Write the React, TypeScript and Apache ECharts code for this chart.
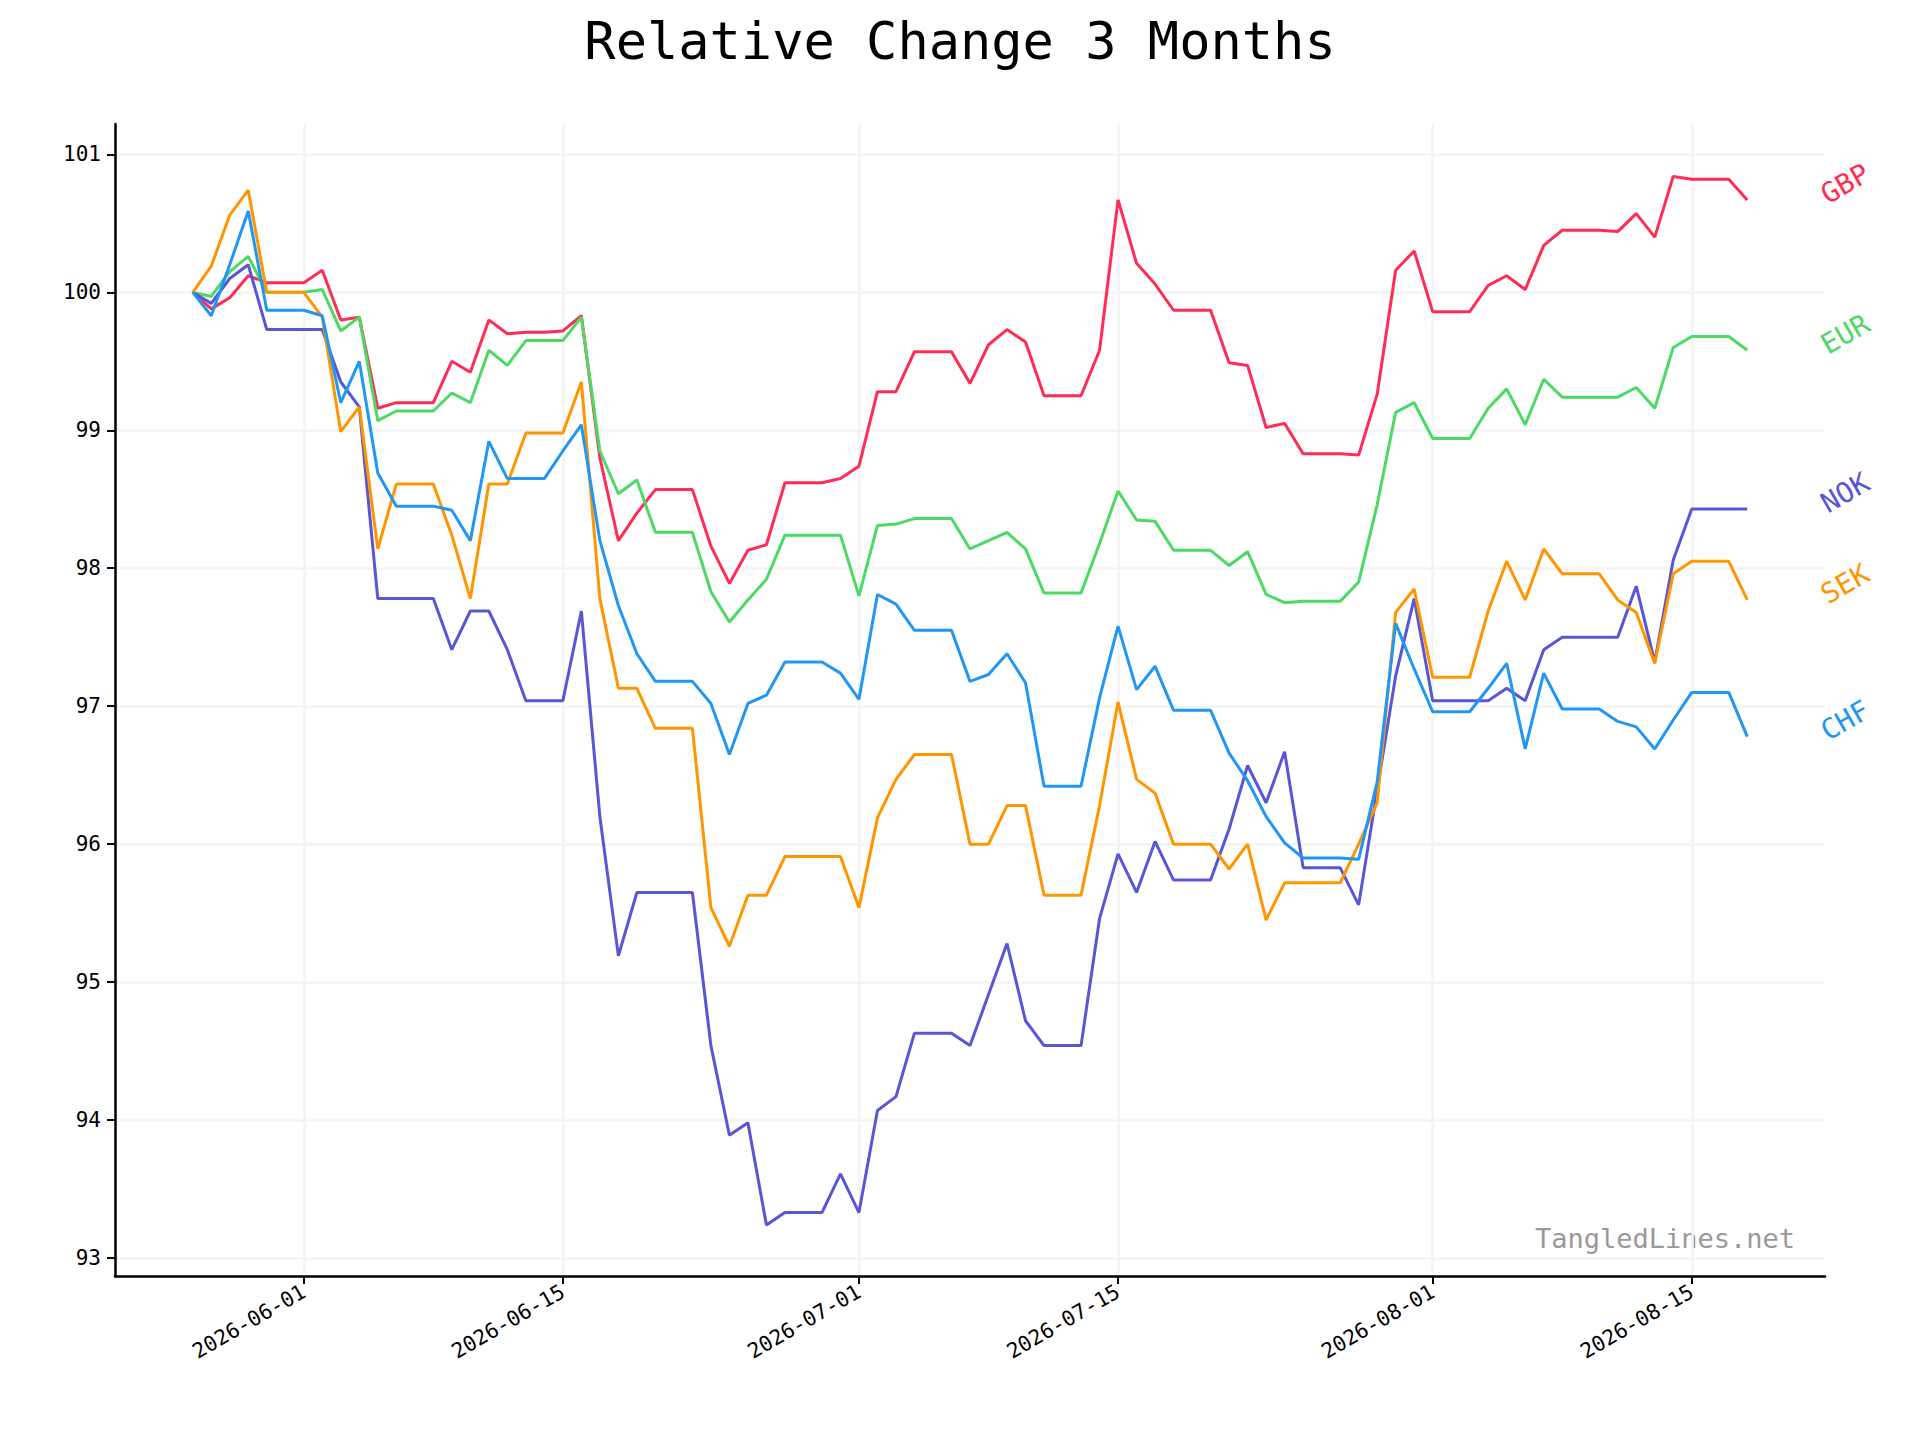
import React, { useEffect, useRef } from 'react';
import * as echarts from 'echarts';

// daily closes, 2026-05-26 .. 2026-08-18
const START = [2026, 4, 26];

const gbp = [100, 99.88, 99.96, 100.12, 100.07, 100.07, 100.07, 100.16, 99.8, 99.82, 99.16, 99.2, 99.2, 99.2, 99.5, 99.42, 99.8, 99.7, 99.71, 99.71, 99.72, 99.83, 98.8, 98.2, 98.4, 98.57, 98.57, 98.57, 98.16, 97.89, 98.13, 98.17, 98.62, 98.62, 98.62, 98.65, 98.74, 99.28, 99.28, 99.57, 99.57, 99.57, 99.34, 99.62, 99.73, 99.64, 99.25, 99.25, 99.25, 99.58, 100.67, 100.21, 100.06, 99.87, 99.87, 99.87, 99.49, 99.47, 99.02, 99.05, 98.83, 98.83, 98.83, 98.82, 99.26, 100.16, 100.3, 99.86, 99.86, 99.86, 100.05, 100.12, 100.02, 100.34, 100.45, 100.45, 100.45, 100.44, 100.57, 100.4, 100.84, 100.82, 100.82, 100.82, 100.67];
const eur = [100, 99.97, 100.15, 100.26, 100.0, 100.0, 100.0, 100.02, 99.72, 99.82, 99.07, 99.14, 99.14, 99.14, 99.27, 99.2, 99.58, 99.47, 99.65, 99.65, 99.65, 99.82, 98.85, 98.54, 98.64, 98.26, 98.26, 98.26, 97.83, 97.61, 97.77, 97.92, 98.24, 98.24, 98.24, 98.24, 97.8, 98.31, 98.32, 98.36, 98.36, 98.36, 98.14, 98.2, 98.26, 98.14, 97.82, 97.82, 97.82, 98.18, 98.56, 98.35, 98.34, 98.13, 98.13, 98.13, 98.02, 98.12, 97.81, 97.75, 97.76, 97.76, 97.76, 97.9, 98.46, 99.13, 99.2, 98.94, 98.94, 98.94, 99.16, 99.3, 99.04, 99.37, 99.24, 99.24, 99.24, 99.24, 99.31, 99.16, 99.6, 99.68, 99.68, 99.68, 99.58];
const nok = [100, 99.92, 100.1, 100.2, 99.73, 99.73, 99.73, 99.73, 99.35, 99.17, 97.78, 97.78, 97.78, 97.78, 97.41, 97.69, 97.69, 97.41, 97.04, 97.04, 97.04, 97.69, 96.2, 95.19, 95.65, 95.65, 95.65, 95.65, 94.54, 93.89, 93.98, 93.24, 93.33, 93.33, 93.33, 93.61, 93.33, 94.07, 94.17, 94.63, 94.63, 94.63, 94.54, 94.91, 95.28, 94.72, 94.54, 94.54, 94.54, 95.46, 95.93, 95.65, 96.02, 95.74, 95.74, 95.74, 96.11, 96.57, 96.3, 96.67, 95.83, 95.83, 95.83, 95.56, 96.39, 97.22, 97.78, 97.04, 97.04, 97.04, 97.04, 97.13, 97.04, 97.41, 97.5, 97.5, 97.5, 97.5, 97.87, 97.32, 98.06, 98.43, 98.43, 98.43, 98.43];
const sek = [100, 100.19, 100.56, 100.74, 100.0, 100.0, 100.0, 99.82, 98.99, 99.17, 98.14, 98.61, 98.61, 98.61, 98.24, 97.78, 98.61, 98.61, 98.98, 98.98, 98.98, 99.35, 97.78, 97.13, 97.13, 96.84, 96.84, 96.84, 95.54, 95.26, 95.63, 95.63, 95.91, 95.91, 95.91, 95.91, 95.54, 96.19, 96.47, 96.65, 96.65, 96.65, 96.0, 96.0, 96.28, 96.28, 95.63, 95.63, 95.63, 96.28, 97.03, 96.47, 96.37, 96.0, 96.0, 96.0, 95.82, 96.0, 95.45, 95.72, 95.72, 95.72, 95.72, 96.0, 96.3, 97.68, 97.85, 97.21, 97.21, 97.21, 97.69, 98.05, 97.77, 98.14, 97.96, 97.96, 97.96, 97.77, 97.68, 97.31, 97.96, 98.05, 98.05, 98.05, 97.77];
const chf = [100, 99.83, 100.2, 100.59, 99.87, 99.87, 99.87, 99.83, 99.2, 99.5, 98.69, 98.45, 98.45, 98.45, 98.42, 98.2, 98.92, 98.65, 98.65, 98.65, 98.85, 99.04, 98.2, 97.73, 97.38, 97.18, 97.18, 97.18, 97.02, 96.65, 97.02, 97.08, 97.32, 97.32, 97.32, 97.24, 97.05, 97.81, 97.74, 97.55, 97.55, 97.55, 97.18, 97.23, 97.38, 97.17, 96.42, 96.42, 96.42, 97.06, 97.58, 97.12, 97.29, 96.97, 96.97, 96.97, 96.66, 96.46, 96.2, 96.01, 95.9, 95.9, 95.9, 95.89, 96.45, 97.6, 97.27, 96.96, 96.96, 96.96, 97.13, 97.31, 96.69, 97.24, 96.98, 96.98, 96.98, 96.89, 96.85, 96.69, 96.9, 97.1, 97.1, 97.1, 96.78];

const currencies = [
  { name: 'GBP', values: gbp, color: '#ff2d55' },
  { name: 'EUR', values: eur, color: '#4cd964' },
  { name: 'NOK', values: nok, color: '#5856d6' },
  { name: 'SEK', values: sek, color: '#ff9500' },
  { name: 'CHF', values: chf, color: '#2196f3' },
];

const yTicks = [93, 94, 95, 96, 97, 98, 99, 100, 101];
const xTicks = ['2026-06-01', '2026-06-15', '2026-07-01', '2026-07-15', '2026-08-01', '2026-08-15'];

const FONT = '"DejaVu Sans Mono", monospace';

const dayTs = (i: number) => new Date(START[0], START[1], START[2] + i).getTime();
const parseDay = (s: string) => {
  const [y, m, d] = s.split('-').map(Number);
  return new Date(y, m - 1, d).getTime();
};
const fmt = (ts: number) => {
  const d = new Date(ts);
  const p = (n: number) => String(n).padStart(2, '0');
  return `${d.getFullYear()}-${p(d.getMonth() + 1)}-${p(d.getDate())}`;
};

const App: React.FC = () => {
  const chartRef = useRef<HTMLDivElement>(null);

  useEffect(() => {
    document.body.style.margin = '0';
    if (!chartRef.current) return;
    const chart = echarts.init(chartRef.current, null, { renderer: 'svg' });
    const n = gbp.length;
    const first = dayTs(0);
    const last = dayTs(n - 1);
    const pad = (last - first) * 0.05;
    const xTickTs = xTicks.map(parseDay);

    chart.setOption({
      animation: false,
      backgroundColor: '#ffffff',
      title: {
        text: 'Relative Change 3 Months',
        left: 'center',
        top: 10,
        textStyle: { fontFamily: FONT, fontSize: 52, fontWeight: 'normal', color: '#000' },
      },
      graphic: [
        {
          type: 'text',
          right: 125,
          top: 1225,
          style: { text: 'TangledLines.net', fontFamily: FONT, fontSize: 27, fill: '#999999' },
        },
      ],
      grid: { left: 115, right: 95, top: 124, bottom: 164, containLabel: false },
      xAxis: {
        type: 'value',
        min: first - pad,
        max: last + pad,
        axisLine: { show: true, onZero: false, lineStyle: { color: '#000', width: 2.5 } },
        axisTick: { show: true, inside: false, length: 8, lineStyle: { color: '#000', width: 2 }, customValues: xTickTs },
        axisLabel: {
          customValues: xTickTs,
          formatter: (v: number) => fmt(v),
          rotate: 30,
          fontFamily: FONT,
          fontSize: 21,
          color: '#000',
          margin: 14,
        },
        splitLine: { show: true, lineStyle: { color: '#f4f4f4', width: 2.5 } },
      },
      yAxis: {
        type: 'value',
        min: 92.87,
        max: 101.22,
        axisLine: { show: true, onZero: false, lineStyle: { color: '#000', width: 2.5 } },
        axisTick: { show: true, inside: false, length: 8, lineStyle: { color: '#000', width: 2 }, customValues: yTicks },
        axisLabel: { customValues: yTicks, fontFamily: FONT, fontSize: 21, color: '#000', margin: 14 },
        splitLine: { show: true, lineStyle: { color: '#f4f4f4', width: 2.5 } },
      },
      series: currencies.map((c) => ({
        name: c.name,
        type: 'line',
        data: c.values.map((v, i) => [dayTs(i), v]),
        showSymbol: false,
        symbol: 'none',
        lineStyle: { color: c.color, width: 3 },
        itemStyle: { color: c.color },
        endLabel: {
          show: true,
          formatter: c.name,
          color: c.color,
          fontFamily: FONT,
          fontSize: 28,
          rotate: 30,
          distance: 78,
          offset: [0, -4],
        },
      })),
    });

    return () => chart.dispose();
  }, []);

  return <div ref={chartRef} style={{ width: 1920, height: 1440 }} />;
};

export default App;
